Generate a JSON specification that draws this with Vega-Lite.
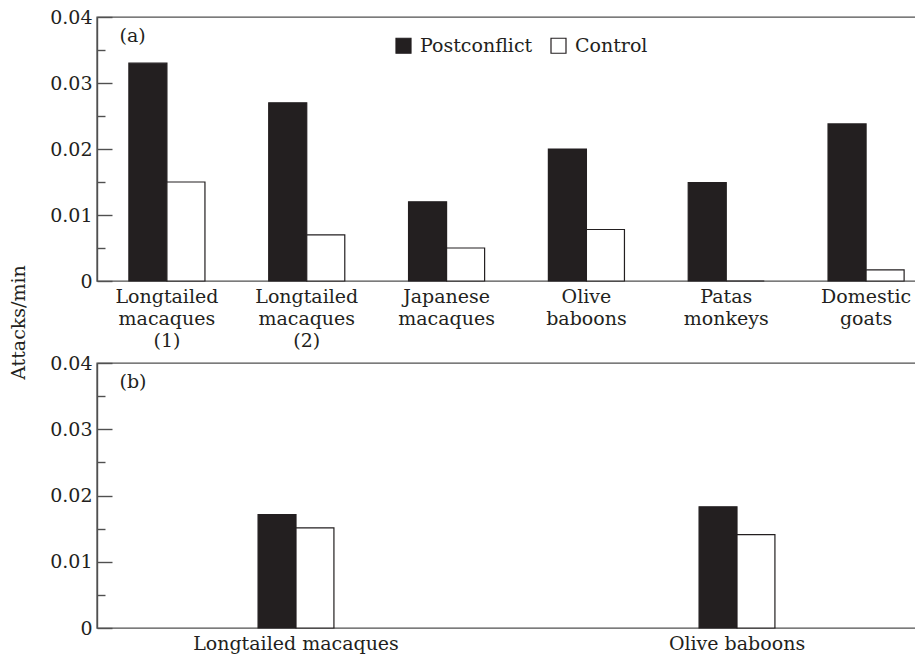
{
  "$schema": "https://vega.github.io/schema/vega-lite/v6.json",
  "padding": {"left": 9, "top": 7, "right": 0, "bottom": 0},
  "bounds": "flush",
  "spacing": 82,
  "title": {"text": "Attacks/min", "orient": "left", "anchor": "middle", "frame": "bounds", "offset": 20, "fontSize": 19, "dx": 8},
  "config": {
    "font": "DejaVu Serif",
    "axis": {"labelFont": "DejaVu Serif", "labelFontSize": 19, "labelColor": "#231f20", "domainColor": "#505050", "tickColor": "#505050", "domainWidth": 1.4, "tickWidth": 1.4, "grid": false, "labelFlush": false, "labelOverlap": false, "labelLimit": 0,
             "titleFont": "DejaVu Serif", "titleFontSize": 19, "titleFontWeight": "normal", "titleColor": "#231f20"},
    "view": {"stroke": "#505050", "strokeWidth": 1.4},
    "title": {"font": "DejaVu Serif", "fontWeight": "normal", "fontSize": 19, "color": "#231f20"},
    "legend": {"labelFont": "DejaVu Serif", "labelFontSize": 19, "labelColor": "#231f20"}
  },
  "resolve": {"scale": {"x": "independent", "y": "independent", "xOffset": "independent", "fill": "independent"}},
  "vconcat": [
    {
      "width": 825,
      "height": 264,
      "data": {"values": [
        {"species": "Longtailed macaques (1)", "condition": "Postconflict", "rate": 0.033},
        {"species": "Longtailed macaques (1)", "condition": "Control", "rate": 0.015},
        {"species": "Longtailed macaques (2)", "condition": "Postconflict", "rate": 0.027},
        {"species": "Longtailed macaques (2)", "condition": "Control", "rate": 0.007},
        {"species": "Japanese macaques", "condition": "Postconflict", "rate": 0.012},
        {"species": "Japanese macaques", "condition": "Control", "rate": 0.005},
        {"species": "Olive baboons", "condition": "Postconflict", "rate": 0.020},
        {"species": "Olive baboons", "condition": "Control", "rate": 0.0078},
        {"species": "Patas monkeys", "condition": "Postconflict", "rate": 0.0149},
        {"species": "Patas monkeys", "condition": "Control", "rate": 0},
        {"species": "Domestic goats", "condition": "Postconflict", "rate": 0.0238},
        {"species": "Domestic goats", "condition": "Control", "rate": 0.0017}
      ]},
      "encoding": {
        "x": {"field": "species", "type": "nominal", "sort": null,
              "scale": {"range": [0, 839], "paddingInner": 0.456, "paddingOuter": 0.228},
              "axis": {"title": null, "ticks": false, "domain": false, "labelAngle": 0, "labelPadding": 6, "labelLineHeight": 22, "labelBaseline": "top", "labelExpr": "split(datum.label, ' ')"}},
        "xOffset": {"field": "condition", "type": "nominal", "sort": ["Postconflict", "Control"], "scale": {"paddingInner": 0, "paddingOuter": 0}}
      },
      "layer": [
        {
          "mark": {"type": "bar", "stroke": "#231f20", "strokeWidth": 1.2},
          "encoding": {
            "y": {"field": "rate", "type": "quantitative", "scale": {"domain": [0, 0.04], "nice": false},
                  "axis": {"orient": "left", "title": "(a)", "titleAngle": 0, "titleX": 22, "titleY": 24, "titleAlign": "left", "titleBaseline": "alphabetic",
                           "values": [0, 0.01, 0.02, 0.03, 0.04], "format": ".2~f", "tickSize": -15, "labelPadding": 20}},
            "fill": {"field": "condition", "type": "nominal", "sort": ["Postconflict", "Control"],
                     "scale": {"domain": ["Postconflict", "Control"], "range": ["#231f20", "#ffffff"]},
                     "legend": {"title": null, "orient": "none", "legendX": 297, "legendY": 19, "direction": "horizontal", "symbolType": "square", "symbolSize": 225, "symbolStrokeColor": "#231f20", "symbolStrokeWidth": 1.2, "labelOffset": 7, "columnPadding": 15}}
          }
        },
        {
          "mark": {"type": "bar", "opacity": 0},
          "encoding": {
            "y": {"field": "rate", "type": "quantitative", "scale": {"domain": [0, 0.04], "nice": false},
                  "axis": {"orient": "left", "title": null, "values": [0.005, 0.015, 0.025, 0.035], "tickSize": -8, "labels": false, "domain": false}}
          }
        }
      ],
      "resolve": {"axis": {"y": "independent"}}
    },
    {
      "width": 825,
      "height": 265,
      "data": {"values": [
        {"species": "Longtailed macaques", "condition": "Postconflict", "rate": 0.0171},
        {"species": "Longtailed macaques", "condition": "Control", "rate": 0.0151},
        {"species": "Olive baboons", "condition": "Postconflict", "rate": 0.0183},
        {"species": "Olive baboons", "condition": "Control", "rate": 0.0141}
      ]},
      "encoding": {
        "x": {"field": "species", "type": "nominal", "sort": null,
              "scale": {"range": [-21.5, 860.5], "paddingInner": 0.828, "paddingOuter": 0.414},
              "axis": {"title": null, "ticks": false, "domain": false, "labelAngle": 0, "labelPadding": 6, "labelBaseline": "top"}},
        "xOffset": {"field": "condition", "type": "nominal", "sort": ["Postconflict", "Control"], "scale": {"paddingInner": 0, "paddingOuter": 0}}
      },
      "layer": [
        {
          "mark": {"type": "bar", "stroke": "#231f20", "strokeWidth": 1.2},
          "encoding": {
            "y": {"field": "rate", "type": "quantitative", "scale": {"domain": [0, 0.04], "nice": false},
                  "axis": {"orient": "left", "title": "(b)", "titleAngle": 0, "titleX": 22, "titleY": 24, "titleAlign": "left", "titleBaseline": "alphabetic",
                           "values": [0, 0.01, 0.02, 0.03, 0.04], "format": ".2~f", "tickSize": -15, "labelPadding": 20}},
            "fill": {"field": "condition", "type": "nominal", "sort": ["Postconflict", "Control"],
                     "scale": {"domain": ["Postconflict", "Control"], "range": ["#231f20", "#ffffff"]},
                     "legend": null}
          }
        },
        {
          "mark": {"type": "bar", "opacity": 0},
          "encoding": {
            "y": {"field": "rate", "type": "quantitative", "scale": {"domain": [0, 0.04], "nice": false},
                  "axis": {"orient": "left", "title": null, "values": [0.005, 0.015, 0.025, 0.035], "tickSize": -8, "labels": false, "domain": false}}
          }
        }
      ],
      "resolve": {"axis": {"y": "independent"}}
    }
  ]
}
